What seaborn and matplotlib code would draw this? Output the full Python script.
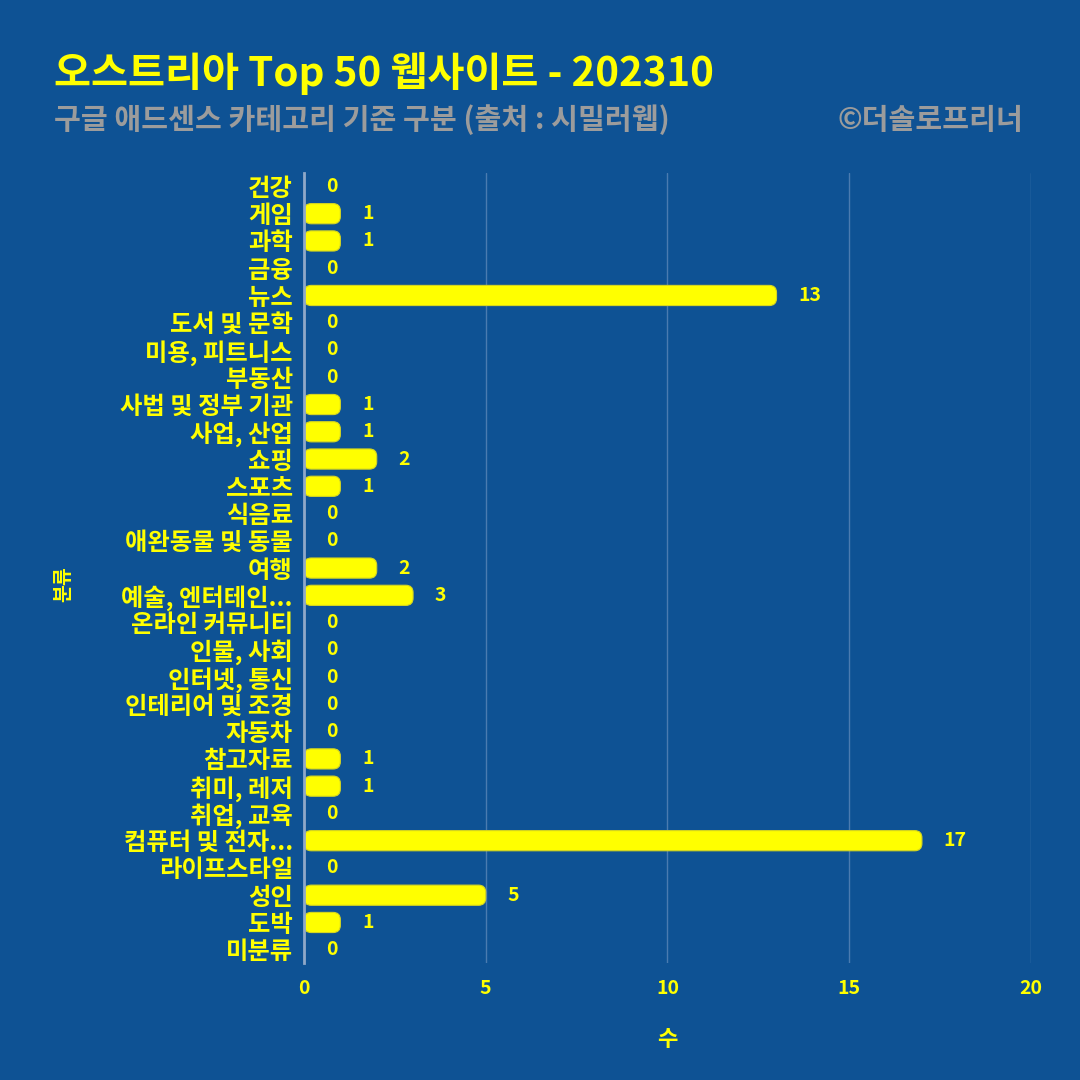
import matplotlib
matplotlib.use("Agg")
import matplotlib.pyplot as plt
import seaborn as sns
import pandas as pd
from matplotlib.patches import FancyBboxPatch

categories = ["건강", "게임", "과학", "금융", "뉴스", "도서 및 문학", "미용, 피트니스", "부동산",
              "사법 및 정부 기관", "사업, 산업", "쇼핑", "스포츠", "식음료", "애완동물 및 동물",
              "여행", "예술, 엔터테인...", "온라인 커뮤니티", "인물, 사회", "인터넷, 통신",
              "인테리어 및 조경", "자동차", "참고자료", "취미, 레저", "취업, 교육",
              "컴퓨터 및 전자...", "라이프스타일", "성인", "도박", "미분류"]
counts = [0, 1, 1, 0, 13, 0, 0, 0, 1, 1, 2, 1, 0, 0, 2, 3, 0, 0, 0, 0, 0, 1, 1, 0, 17, 0, 5, 1, 0]
x_ticks = [0, 5, 10, 15, 20]

BG = "#0E5294"
YEL = "#FFFF00"
GREY = "#9C9C9C"

sns.set_theme(style="white")
plt.rcParams['font.family'] = ['Noto Sans CJK KR', 'DejaVu Sans']

df = pd.DataFrame({"분류": categories, "수": counts})

fig = plt.figure(figsize=(10.8, 10.8), dpi=100, facecolor=BG)
ax = fig.add_axes([0.2815, 0.108, 0.6731, 0.732])
ax.set_facecolor(BG)

sns.barplot(data=df, y="분류", x="수", orient="h", color=YEL, width=0.74, ax=ax,
            saturation=1, order=categories)

# replace rectangles with rounded bars of the same geometry
rects = list(ax.patches)
for p in rects:
    x0, y0 = p.get_x(), p.get_y()
    w, h = p.get_width(), p.get_height()
    p.set_visible(False)
    if w <= 0:
        continue
    fb = FancyBboxPatch((x0, y0), w, h,
                        boxstyle="round,pad=0,rounding_size=0.2",
                        mutation_aspect=1.35,
                        facecolor=YEL, edgecolor="#D6D620", linewidth=0.8, zorder=3)
    ax.add_patch(fb)

for i, v in enumerate(counts):
    ax.text(v + 0.6, i, f"{v}", color=YEL, fontsize=14, fontweight="bold",
            va="center", ha="left", zorder=4)

ax.set_xlim(0, 20)
ax.set_ylim(len(categories) - 0.5, -0.5)
ax.set_xticks(x_ticks)
ax.set_xticklabels([str(t) for t in x_ticks], color=YEL, fontsize=14, fontweight="bold")
ax.tick_params(axis="x", length=0, pad=11)
ax.tick_params(axis="y", length=0, pad=8)
for lab in ax.get_yticklabels():
    lab.set_color(YEL)
    lab.set_fontsize(17.5)
    lab.set_fontweight("bold")

ax.grid(axis="x", color="#5A86B8", linewidth=1, alpha=0.8)
ax.grid(axis="y", visible=False)
ax.set_axisbelow(True)
for s in ["top", "right", "bottom"]:
    ax.spines[s].set_visible(False)
ax.spines["left"].set_color("#8FA8C8")
ax.spines["left"].set_linewidth(2)
ax.spines["left"].set_zorder(5)

ax.set_xlabel("수", color=YEL, fontsize=16, fontweight="bold", labelpad=22)
ax.set_ylabel("분류", color=YEL, fontsize=14, fontweight="bold", labelpad=0)
ax.yaxis.set_label_coords(-0.318, 0.48)

fig.text(0.05, 0.932, "오스트리아 Top 50 웹사이트 - 202310", color=YEL, fontsize=29,
         fontweight="bold", fontstyle="italic", ha="left", va="center")
fig.text(0.05, 0.889, "구글 애드센스 카테고리 기준 구분 (출처 : 시밀러웹)", color=GREY, fontsize=21,
         fontweight="bold", fontstyle="italic", ha="left", va="center")
fig.text(0.948, 0.889, "©더솔로프리너", color=GREY, fontsize=21,
         fontweight="bold", fontstyle="italic", ha="right", va="center")

fig.savefig("out.png", dpi=100, facecolor=BG)
